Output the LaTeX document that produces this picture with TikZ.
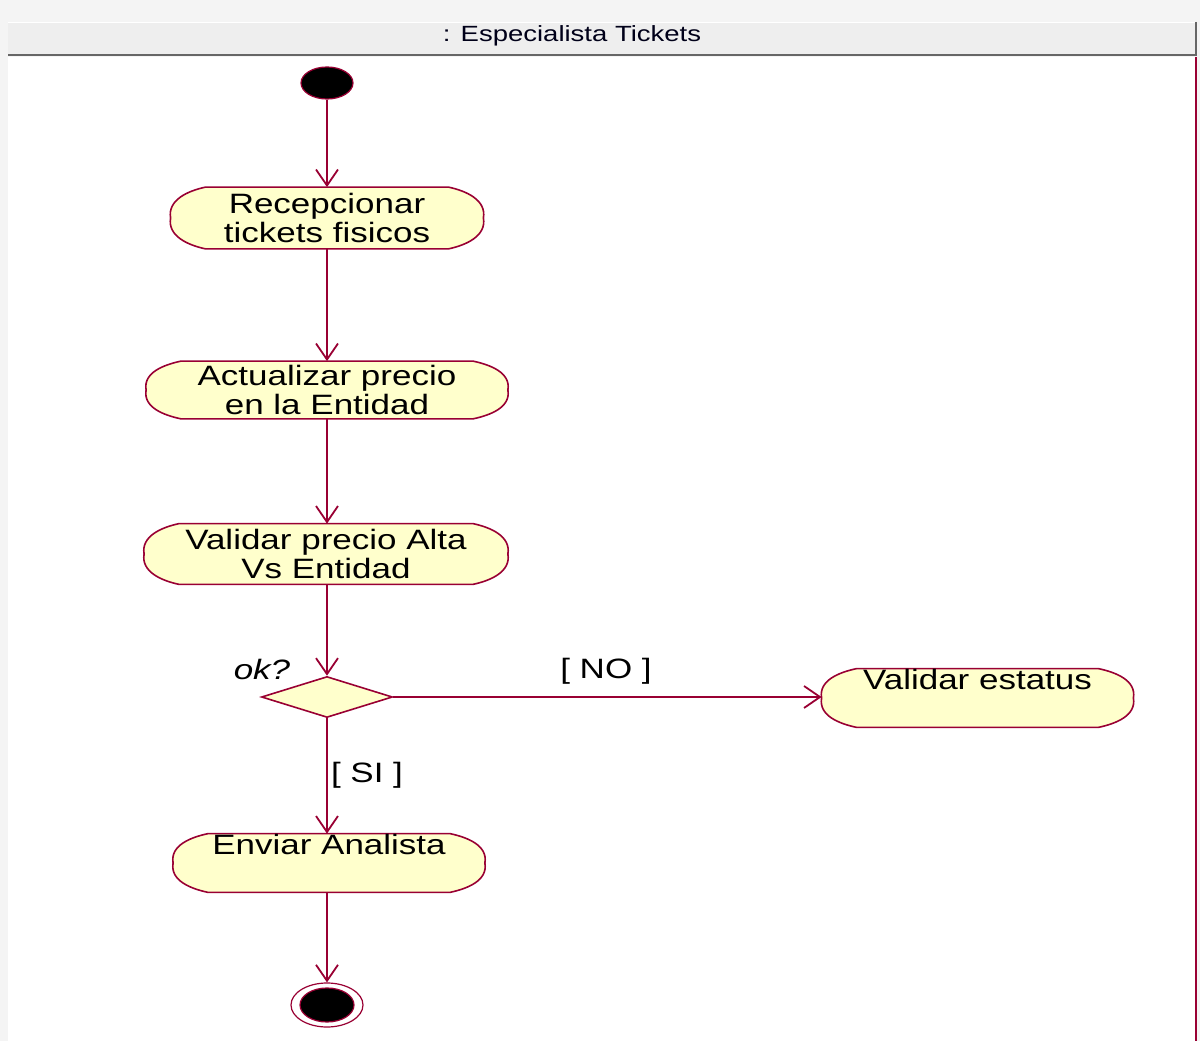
\documentclass[tikz,border=0pt]{standalone}
\usepackage{fontspec}
\setmainfont{Liberation Sans}[FakeStretch=1.25]
\usetikzlibrary{arrows.meta,shapes.geometric}
\definecolor{umlline}{HTML}{990033}
\definecolor{umlfill}{HTML}{FFFFCC}
\definecolor{headfill}{HTML}{EEEEEE}
\definecolor{pagegray}{HTML}{F4F4F4}
\pgfdeclarelayer{back}
\pgfdeclarelayer{outline}
\pgfsetlayers{back,outline,main}
\tikzset{
  act/.style={rectangle, inner sep=0pt, align=center, text=black,
    font=\fontsize{14}{14.5}\selectfont},
  actedge/.style={draw=umlline, fill=umlfill, line width=0.8pt},
  flow/.style={draw=umlline, line width=0.9pt,
    -{Straight Barb[length=8pt,width=11pt,line width=0.9pt]}},
  guard/.style={font=\fontsize{14}{14.5}\selectfont, text=black},
  startdot/.style={ellipse, draw=umlline, fill=black, line width=0.6pt,
    minimum width=26pt, minimum height=16pt, inner sep=0pt},
  endring/.style={ellipse, draw=umlline, fill=white, line width=0.6pt,
    minimum width=36pt, minimum height=22pt, inner sep=0pt},
  enddot/.style={ellipse, draw=umlline, fill=black, line width=0.6pt,
    minimum width=27pt, minimum height=17pt, inner sep=0pt},
  decision/.style={diamond, draw=umlline, fill=umlfill, line width=0.8pt,
    minimum width=65.5pt, minimum height=20.5pt, inner sep=0pt},
}
% activity outline: flat top and bottom, bulging ends
\newcommand\actoutline[2]{%
  \begin{pgfonlayer}{outline}
    \draw[actedge] ([xshift=#2]#1.north west) -- ([xshift=-#2]#1.north east)
      to[out=-12,in=80] (#1.east) to[out=-80,in=12] ([xshift=-#2]#1.south east)
      -- ([xshift=#2]#1.south west) to[out=168,in=-100] (#1.west)
      to[out=100,in=192] cycle;
  \end{pgfonlayer}}
\begin{document}
\begin{tikzpicture}[x=0.5pt,y=-0.5pt]
  % page, swimlane header and lane body
  \begin{pgfonlayer}{back}
    \fill[pagegray] (0,0) rectangle (1200,1041);
    \fill[headfill] (8,22) rectangle (1196,56);
    \draw[white, line width=0.8pt] (8,22.5) -- (1196,22.5);
    \fill[white] (8,57) rectangle (1196,1041);
    \draw[gray!80!black, line width=1.4pt] (8,55) -- (1197,55);
    \draw[gray!80!black, line width=1.4pt] (1196,22) -- (1196,56);
    \draw[umlline, line width=1pt] (1196,57) -- (1196,1041);
  \end{pgfonlayer}
  \useasboundingbox (0,0) rectangle (1200,1041);
  \node[font=\fontsize{11}{13}\selectfont, text=black!90!blue] (lanetitle) at (572,36) {: Especialista Tickets};

  % nodes
  \node[startdot] (start) at (327,83) {};
  \node[act, minimum width=156pt, minimum height=30.5pt] (a1) at (327,218) {Recepcionar\\tickets fisicos};
  \node[act, minimum width=180.5pt, minimum height=28.5pt] (a2) at (327,390) {Actualizar precio\\en la Entidad};
  \node[act, minimum width=181.5pt, minimum height=30pt] (a3) at (326,554) {Validar precio Alta\\Vs Entidad};
  \node[decision] (dec) at (327,697) {};
  \node[act, minimum width=155.5pt, minimum height=28.5pt] (val) at (977.5,698) {Validar estatus\\\strut};
  \node[act, minimum width=155.5pt, minimum height=29pt] (env) at (329,863) {Enviar Analista\\\strut};
  \node[endring] (finish) at (327,1005) {};
  \node[enddot] (finishcore) at (finish) {};

  \actoutline{a1}{17.5pt}
  \actoutline{a2}{17.5pt}
  \actoutline{a3}{17.5pt}
  \actoutline{val}{17.5pt}
  \actoutline{env}{17.5pt}

  % guards and decision label
  \node[guard, font=\fontsize{14}{14.5}\itshape] (okq) at (262,669) {ok?};
  \node[guard] (guardno) at (606,671) {[ NO ]};
  \node[guard] (guardsi) at (367,775) {[ SI ]};

  % control flow
  \draw[flow] (start) -- (a1);
  \draw[flow] (a1) -- (a2);
  \draw[flow] (a2.south) -- (a3.north -| a2.south);
  \draw[flow] (a3.south -| dec.north) -- (dec);
  \draw[flow] (dec.east) -- (dec.east -| val.west);
  \draw[flow] (dec) -- (env.north -| dec.south);
  \draw[flow] (env.south -| finish.north) -- (finish);
\end{tikzpicture}
\end{document}
